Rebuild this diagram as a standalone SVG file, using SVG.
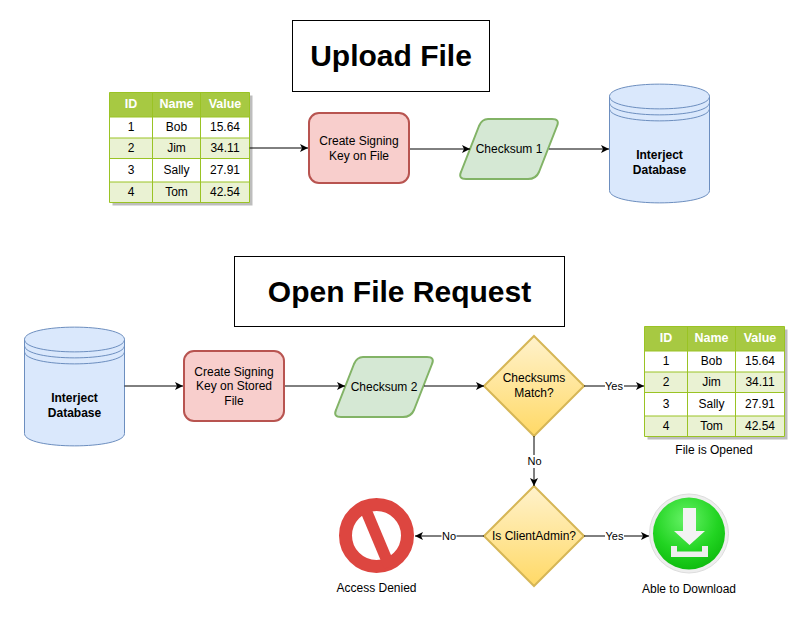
<svg xmlns="http://www.w3.org/2000/svg" xmlns:xlink="http://www.w3.org/1999/xlink" width="809" height="618" viewBox="0 0 809 618">
<style>
text{font-family:"Liberation Sans",Arial,sans-serif;font-size:12px;fill:#000;text-anchor:middle}
.title{font-size:30px;font-weight:bold}
.b{font-weight:bold}
.h{font-weight:bold;fill:#fff;font-size:12.5px}
.box{fill:#fff;stroke:#000;stroke-width:1}
.red{fill:#f8cecc;stroke:#b85450;stroke-width:2}
.grn{fill:#d5e8d4;stroke:#82b366;stroke-width:2;stroke-linejoin:round}
.dia{fill:url(#gold);stroke:#d6b656;stroke-width:2}
.cyl{fill:#dae8fc;stroke:#6c8ebf;stroke-width:1}
.conn{fill:none;stroke:#000;stroke-width:1;marker-end:url(#arr)}
.lab{fill:#fff}
.el{font-size:11px}
.tl{stroke:#9ac324;stroke-width:1;fill:none}
</style>
<defs>
<marker id="arr" markerUnits="userSpaceOnUse" markerWidth="10" markerHeight="10" refX="8" refY="5" orient="auto"><path d="M0,1 L8,5 L0,9 L2,5 Z" fill="#000"/></marker>
<linearGradient id="gold" x1="0" y1="0" x2="0" y2="1"><stop offset="0" stop-color="#fff2cc"/><stop offset="1" stop-color="#ffd966"/></linearGradient>
<radialGradient id="green" cx="0.45" cy="0.3" r="0.75"><stop offset="0" stop-color="#66f266"/><stop offset="0.6" stop-color="#22d422"/><stop offset="1" stop-color="#0cb80c"/></radialGradient>
<g id="table">
<rect x="3" y="3" width="140" height="110" fill="#bdbdbd"/>
<rect x="0" y="0" width="140" height="110" fill="#fff"/>
<rect x="0" y="0" width="140" height="24.500" fill="#a7c942"/>
<rect x="0" y="45.500" width="140" height="20.500" fill="#eaf2d3"/>
<rect x="0" y="89.500" width="140" height="20.500" fill="#eaf2d3"/>
<path class="tl" d="M0,0H140V110H0Z M43,0V110 M91,0V110 M0,24.500H140 M0,45.500H140 M0,66H140 M0,89.500H140"/>
<text class="h" x="21.500" y="15">ID</text><text class="h" x="67" y="15">Name</text><text class="h" x="115.500" y="15">Value</text>
<text x="21.500" y="38.500">1</text><text x="67" y="38.500">Bob</text><text x="115.500" y="38.500">15.64</text>
<text x="21.500" y="59.500">2</text><text x="67" y="59.500">Jim</text><text x="115.500" y="59.500">34.11</text>
<text x="21.500" y="81.500">3</text><text x="67" y="81.500">Sally</text><text x="115.500" y="81.500">27.91</text>
<text x="21.500" y="103.500">4</text><text x="67" y="103.500">Tom</text><text x="115.500" y="103.500">42.54</text>
</g>
<g id="cylinder">
<path class="cyl" d="M0,12.500 C0,-4 100,-4 100,12.500 V106.500 C100,123 0,123 0,106.500 Z"/>
<path class="cyl" style="fill:none" d="M0,12.500 C0,29 100,29 100,12.500 M0,18.500 C0,35 100,35 100,18.500 M0,24.500 C0,41 100,41 100,24.500"/>
<text class="b" x="50" y="75">Interject</text><text class="b" x="50" y="90">Database</text>
</g>
</defs>
<rect width="809" height="618" fill="#fff"/>
<g id="title-upload"><rect class="box" x="292.500" y="20.500" width="197" height="71"/><text class="title" x="391" y="66">Upload File</text></g>
<g id="table-upload"><use xlink:href="#table" href="#table" x="109.500" y="92.500"/></g>
<g id="sign-1"><rect class="red" x="309" y="113" width="100" height="70" rx="10"/><text x="359" y="145">Create Signing</text><text x="359" y="160">Key on File</text></g>
<g id="checksum-1"><path class="grn" d="M488,119 H552 Q560,119 557,126 L539,172 Q536,179 528,179 H466 Q458,179 461,172 L479,126 Q482,119 488,119 Z"/><text x="509" y="153">Checksum 1</text></g>
<g id="db-upload"><use xlink:href="#cylinder" href="#cylinder" x="609.500" y="84"/></g>
<g id="title-open"><rect class="box" x="234.500" y="256.500" width="330" height="70"/><text class="title" x="399.500" y="302">Open File Request</text></g>
<g id="db-open"><use xlink:href="#cylinder" href="#cylinder" x="24.500" y="327"/></g>
<g id="sign-2"><rect class="red" x="184" y="351" width="100" height="70" rx="10"/><text x="234" y="376">Create Signing</text><text x="234" y="390">Key on Stored</text><text x="234" y="405">File</text></g>
<g id="checksum-2"><path class="grn" d="M363,357 H427 Q435,357 432,364 L414,410 Q411,417 403,417 H341 Q333,417 336,410 L354,364 Q357,357 363,357 Z"/><text x="384" y="391">Checksum 2</text></g>
<g id="match"><path class="dia" d="M534,336 L584,386 L534,436 L484,386 Z"/><text x="534" y="382">Checksums</text><text x="534" y="397">Match?</text></g>
<g id="table-open"><use xlink:href="#table" href="#table" x="644.500" y="326.500"/><text x="714" y="454">File is Opened</text></g>
<g id="admin"><path class="dia" d="M534,486 L584,536 L534,586 L484,536 Z"/><text x="534" y="540">Is ClientAdmin?</text></g>
<g id="denied">
<circle cx="376.500" cy="535.500" r="31" fill="#fff" stroke="#dd4640" stroke-width="13"/>
<path d="M363.500,504.500 L389.500,566.500" stroke="#dd4640" stroke-width="11.500" fill="none"/>
<text x="376.500" y="592">Access Denied</text>
</g>
<g id="download">
<circle cx="689" cy="533.500" r="39.500" fill="#eeeeee" stroke="#dddddd" stroke-width="1"/>
<circle cx="689" cy="533.500" r="36" fill="url(#green)"/>
<path d="M683,508 H696 V531 H705 L689.500,545 L674,531 H683 Z" fill="#f3f3f3"/>
<path d="M671,546 H677 V551.500 H702 V546 H708 V557 H671 Z" fill="#eeeeee"/>
<text x="689" y="593">Able to Download</text>
</g>
<g id="connectors">
<path class="conn" d="M249.500,148H308"/>
<path class="conn" d="M410,149H470"/>
<path class="conn" d="M549,149H609"/>
<path class="conn" d="M124.500,386H183"/>
<path class="conn" d="M285,386H345"/>
<path class="conn" d="M424,386H484"/>
<path class="conn" d="M584,386H644"/>
<path class="conn" d="M534,436V486"/>
<path class="conn" d="M484,536H415"/>
<path class="conn" d="M584,536H649"/>
<rect class="lab" x="605" y="380" width="19" height="13"/><text class="el" x="614" y="390">Yes</text>
<rect class="lab" x="527" y="455" width="15" height="13"/><text class="el" x="534.500" y="465">No</text>
<rect class="lab" x="441.500" y="530" width="15" height="13"/><text class="el" x="449" y="540">No</text>
<rect class="lab" x="605" y="530" width="19" height="13"/><text class="el" x="614.500" y="540">Yes</text>
</g>
</svg>
